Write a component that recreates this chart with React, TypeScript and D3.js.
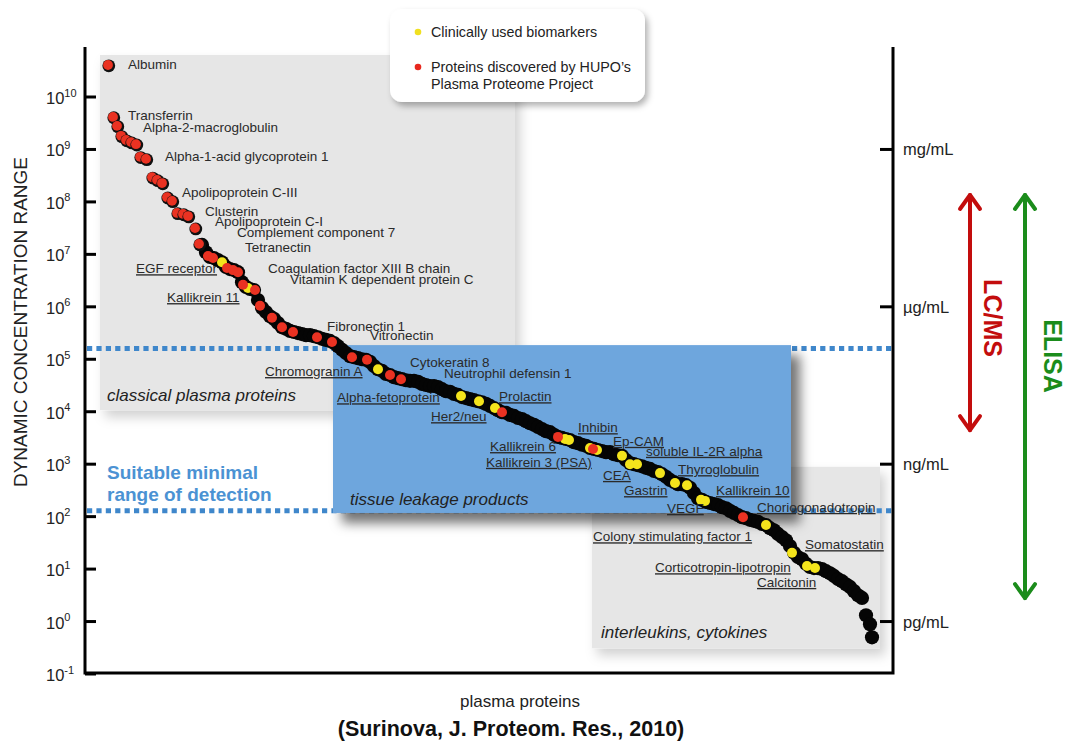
import React from "react";
import * as d3 from "d3";

// ---- data (rank along x, log10 concentration along y) ----
const bandStartRank = 29;
const bandLogConc = [
  7.18, 7.04, 6.95, 6.93, 6.89, 6.85, 6.76, 6.72, 6.70, 6.66,
  6.47, 6.38, 6.34, 6.32, 6.13, 5.98, 5.90, 5.82, 5.77, 5.69,
  5.61, 5.58, 5.54, 5.52, 5.50, 5.48, 5.46, 5.46, 5.44, 5.42,
  5.39, 5.37, 5.35, 5.31, 5.25, 5.18, 5.12, 5.06, 5.04, 5.02,
  5.00, 4.99, 4.95, 4.87, 4.81, 4.78, 4.72, 4.70, 4.66, 4.64,
  4.62, 4.60, 4.59, 4.59, 4.57, 4.53, 4.51, 4.49, 4.49, 4.47,
  4.43, 4.39, 4.38, 4.34, 4.32, 4.28, 4.26, 4.24, 4.22, 4.20,
  4.18, 4.15, 4.11, 4.07, 4.03, 3.99, 3.98, 3.94, 3.92, 3.88,
  3.86, 3.82, 3.78, 3.75, 3.71, 3.67, 3.63, 3.61, 3.56, 3.52,
  3.50, 3.48, 3.46, 3.42, 3.40, 3.37, 3.35, 3.31, 3.29, 3.27,
  3.25, 3.23, 3.23, 3.19, 3.17, 3.16, 3.08, 3.02, 3.00, 2.98,
  2.96, 2.93, 2.91, 2.87, 2.85, 2.81, 2.76, 2.70, 2.66, 2.62,
  2.62, 2.60, 2.55, 2.45, 2.35, 2.32, 2.28, 2.26, 2.24, 2.22,
  2.18, 2.16, 2.11, 2.07, 2.03, 1.99, 1.97, 1.94, 1.92, 1.90,
  1.86, 1.84, 1.78, 1.74, 1.67, 1.61, 1.55, 1.44, 1.31, 1.23,
  1.19, 1.10, 1.04, 1.02, 1.02, 1.00, 0.96, 0.92, 0.87, 0.81,
  0.77, 0.71, 0.66, 0.58, 0.50, 0.45, 0.12, -0.05,
];
const tailPoints: [number, number][] = [[196.5, -0.3]];

const upperHupo: [number, number][] = [
  [5.5, 10.61], [6.75, 9.62], [7.75, 9.45], [8.75, 9.26], [10, 9.18], [11.25, 9.14],
  [12.5, 9.1], [13.5, 8.86], [15, 8.82], [16.5, 8.47], [17.75, 8.42], [19, 8.36],
  [20.25, 8.09], [21.5, 8.02], [22.75, 7.79], [24.25, 7.77], [25.5, 7.73],
  [27.25, 7.5], [28.25, 7.2],
];

const hupoInBand: [number, number][] = [
  [30.5, 6.97], [31.75, 6.93], [35.25, 6.74], [36.75, 6.7], [38, 6.66], [39.25, 6.42],
  [42.25, 6.32], [43.5, 6.02], [46.5, 5.79], [49, 5.61], [51.75, 5.52], [57.75, 5.42],
  [61.5, 5.33], [66.5, 5.04], [70.25, 4.99], [76, 4.7], [78.75, 4.62], [104, 3.99],
  [118, 3.52], [126.75, 3.29], [164.25, 1.99],
];

const clinicalMarkers: [number, number][] = [
  [34, 6.85], [40.5, 6.36], [73, 4.81], [93.75, 4.3], [98.25, 4.2], [102.25, 4.07],
  [119.75, 3.48], [120.75, 3.46], [126, 3.31], [127.75, 3.27], [134, 3.16], [136, 3.0],
  [137.75, 3.0], [143.5, 2.83], [147.25, 2.64], [150.25, 2.6], [153.75, 2.32],
  [154.75, 2.3], [170, 1.84], [176.5, 1.31], [180.25, 1.06], [182.25, 1.02],
];

// [name, rank, log10 conc, underlined]
const proteinLabels: [string, number, number, boolean][] = [
  ["Albumin", 10.5, 10.53, false],
  ["Transferrin", 10.5, 9.56, false],
  ["Alpha-2-macroglobulin", 14.25, 9.33, false],
  ["Alpha-1-acid glycoprotein 1", 19.75, 8.78, false],
  ["Apolipoprotein C-III", 24, 8.09, false],
  ["Clusterin", 29.75, 7.73, false],
  ["Apolipoprotein C-I", 32.25, 7.54, false],
  ["Complement component 7", 37.75, 7.33, false],
  ["Tetranectin", 39.75, 7.04, false],
  ["EGF receptor", 12.5, 6.64, true],
  ["Coagulation factor XIII B chain", 45.5, 6.64, false],
  ["Vitamin K dependent protein C", 51, 6.43, false],
  ["Kallikrein 11", 20.25, 6.09, true],
  ["Fibronectin 1", 60.25, 5.54, false],
  ["Vitronectin", 71, 5.37, false],
  ["Chromogranin A", 44.75, 4.68, true],
  ["Cytokeratin 8", 81, 4.85, false],
  ["Neutrophil defensin 1", 89.5, 4.64, false],
  ["Alpha-fetoprotein", 62.75, 4.18, true],
  ["Prolactin", 103.25, 4.2, true],
  ["Her2/neu", 86.25, 3.82, true],
  ["Inhibin", 123, 3.61, true],
  ["Kallikrein 6", 101, 3.25, true],
  ["Kallikrein 3 (PSA)", 100, 2.95, true],
  ["Ep-CAM", 131.75, 3.35, true],
  ["soluble IL-2R alpha", 140, 3.16, true],
  ["CEA", 129.25, 2.7, true],
  ["Thyroglobulin", 148, 2.81, true],
  ["Gastrin", 134.5, 2.41, true],
  ["Kallikrein 10", 157.5, 2.41, true],
  ["VEGF", 145.25, 2.07, true],
  ["Choriogonadotropin", 167.75, 2.09, true],
  ["Colony stimulating factor 1", 126.75, 1.53, true],
  ["Somatostatin", 179.75, 1.38, true],
  ["Corticotropin-lipotropin", 142.25, 0.94, true],
  ["Calcitonin", 167.75, 0.66, true],
];

// regions: [name, rank0, rank1, logLow, logHigh, labelRank, labelLog]
const regions: [string, number, number, number, number, number, number][] = [
  ["classical plasma proteins", 3.5, 107.25, 4.03, 10.8, 5.25, 4.2],
  ["interleukins, cytokines", 126.5, 198.5, -0.51, 2.95, 128.75, -0.31],
  ["tissue leakage products", 61.75, 176.25, 2.07, 5.27, 66, 2.22],
];

const detectionLimits = [1.6e5, 130];
const tickExponents = [10, 9, 8, 7, 6, 5, 4, 3, 2, 1, 0, -1];
const unitLabels = ["mg/mL", "µg/mL", "ng/mL", "pg/mL"];
const unitExponents = [9, 6, 3, 0];
// method ranges (log10): [name, top, bottom]
const methods: [string, number, number][] = [
  ["LC/MS", 8.17, 3.61],
  ["ELISA", 8.17, 0.41],
];

const FONT = "'Liberation Sans', Arial, Helvetica, sans-serif";

export default function App() {
  const W = 1071, H = 748;
  const x = d3.scaleLinear().domain([0, 202]).range([86, 894]);
  const y = d3.scaleLog().domain([0.1, 1e10]).range([674, 97]);
  const Y = (e: number) => y(Math.pow(10, e));

  const axL = 85, axR = 893, axT = 47, axB = 673;
  const bandPts = bandLogConc.map((v, i) => [bandStartRank + i, v] as [number, number]).concat(tailPoints);

  const methodX = [970, 1025];
  const methodColor = ["#c30d0d", "#1b8c1b"];
  const methodLabelX = [993, 1053];

  const arrow = (cx: number, y0: number, y1: number, color: string, key: string) => (
    <g key={key} stroke={color} strokeWidth={4} fill="none" strokeLinecap="round" strokeLinejoin="round">
      <line x1={cx} x2={cx} y1={y0 + 2} y2={y1 - 2} />
      <polyline points={`${cx - 10},${y0 + 16} ${cx},${y0 + 2} ${cx + 10},${y0 + 16}`} />
      <polyline points={`${cx - 10},${y1 - 16} ${cx},${y1 - 2} ${cx + 10},${y1 - 16}`} />
    </g>
  );

  return (
    <svg width={W} height={H} style={{ position: "absolute", left: 0, top: 0, background: "#fff" }} fontFamily={FONT}>
      <defs>
        <filter id="greyShadow" x="-10%" y="-10%" width="130%" height="130%">
          <feDropShadow dx="5" dy="7" stdDeviation="6" floodColor="#000" floodOpacity="0.18" />
        </filter>
        <filter id="blueShadow" x="-10%" y="-10%" width="130%" height="140%">
          <feDropShadow dx="9" dy="10" stdDeviation="6" floodColor="#000" floodOpacity="0.55" />
        </filter>
        <filter id="legendShadow" x="-10%" y="-10%" width="130%" height="140%">
          <feDropShadow dx="3" dy="4" stdDeviation="3" floodColor="#000" floodOpacity="0.3" />
        </filter>
      </defs>

      {/* grey regions */}
      {regions.slice(0, 2).map(([name, r0, r1, lo, hi]) => (
        <rect key={name} x={x(r0)} y={Y(hi)} width={x(r1) - x(r0)} height={Y(lo) - Y(hi)}
          fill="#e6e6e6" filter="url(#greyShadow)" />
      ))}

      {/* detection-limit dotted lines */}
      {detectionLimits.map((v, i) => (
        <line key={i} x1={axL + 2} x2={axR} y1={y(v)} y2={y(v)} stroke="#3f87cb" strokeWidth={5} strokeDasharray="5.2 4.2" />
      ))}

      {/* blue region */}
      {regions.slice(2).map(([name, r0, r1, lo, hi]) => (
        <rect key={name} x={x(r0)} y={Y(hi)} width={x(r1) - x(r0)} height={Y(lo) - Y(hi)}
          fill="#6ea6dd" filter="url(#blueShadow)" />
      ))}

      {/* axes frame */}
      <path d={`M${axL},${axT} V${axB} H${axR} V${axT}`} fill="none" stroke="#000" strokeWidth={3} />
      {tickExponents.map((e) => (
        <g key={e}>
          <line x1={axL} x2={axL + 11} y1={Y(e)} y2={Y(e)} stroke="#000" strokeWidth={3} />
          <text x={46} y={Y(e) + 7} fontSize={16.5} fill="#222">
            10<tspan dy={-7.5} fontSize={11}>{e}</tspan>
          </text>
        </g>
      ))}
      {unitLabels.map((u, i) => (
        <g key={u}>
          <line x1={axR - 13} x2={axR} y1={Y(unitExponents[i])} y2={Y(unitExponents[i])} stroke="#000" strokeWidth={3} />
          <text x={903} y={Y(unitExponents[i]) + 6} fontSize={16.5} fill="#222">{u}</text>
        </g>
      ))}

      {/* black band of proteins */}
      {bandPts.map(([r, v], i) => (
        <circle key={"b" + i} cx={x(r)} cy={Y(v)} r={7.1} fill="#050505" />
      ))}
      {/* upper HUPO proteins with black ring */}
      {upperHupo.map(([r, v], i) => (
        <g key={"u" + i}>
          <circle cx={x(r) + 0.8} cy={Y(v) + 0.8} r={6.4} fill="#111" />
          <circle cx={x(r)} cy={Y(v)} r={4.9} fill="#ea3222" />
        </g>
      ))}
      {clinicalMarkers.map(([r, v], i) => (
        <circle key={"c" + i} cx={x(r)} cy={Y(v)} r={5} fill="#f4e41c" />
      ))}
      {hupoInBand.map(([r, v], i) => (
        <circle key={"h" + i} cx={x(r)} cy={Y(v)} r={5} fill="#ea3222" />
      ))}

      {/* protein labels */}
      {proteinLabels.map(([name, r, v, u]) => (
        <text key={name} x={x(r)} y={Y(v)} fontSize={13.5} fill="#2a2a2a"
          style={u ? { textDecoration: "underline" } : undefined}>{name}</text>
      ))}

      {/* region labels */}
      {regions.map(([name, , , , , lr, lv]) => (
        <text key={"l" + name} x={x(lr)} y={Y(lv)} fontSize={17} fontStyle="italic" fill="#222">{name}</text>
      ))}

      <text x={107} y={479} fontSize={19} fontWeight="bold" fill="#4b92d3">Suitable minimal</text>
      <text x={107} y={501} fontSize={19} fontWeight="bold" fill="#4b92d3">range of detection</text>

      {/* legend */}
      <rect x={390} y={9} width={255} height={93} rx={12} fill="#fff" filter="url(#legendShadow)" />
      <circle cx={418} cy={32} r={3.3} fill="#f0e020" />
      <text x={431} y={37} fontSize={14.3} fill="#222">Clinically used biomarkers</text>
      <circle cx={418} cy={67} r={3.3} fill="#e8281e" />
      <text x={431} y={72} fontSize={14.3} fill="#222">Proteins discovered by HUPO’s</text>
      <text x={431} y={89} fontSize={14.3} fill="#222">Plasma Proteome Project</text>

      {/* method ranges */}
      {methods.map(([name, top, bot], i) => arrow(methodX[i], Y(top), Y(bot), methodColor[i], name))}
      {methods.map(([name], i) => (
        <text key={"t" + name} transform={`translate(${methodLabelX[i]},${name === "LC/MS" ? 318 : 356}) rotate(90)`}
          textAnchor="middle" dominantBaseline="central" fontSize={25} fontWeight="bold" fill={methodColor[i]}>{name}</text>
      ))}

      {/* axis titles */}
      <text transform="translate(20,322) rotate(-90)" textAnchor="middle" dominantBaseline="central" fontSize={19} fill="#222">
        DYNAMIC CONCENTRATION RANGE
      </text>
      <text x={520} y={707} textAnchor="middle" fontSize={17} fill="#222">plasma proteins</text>
      <text x={511} y={736} textAnchor="middle" fontSize={21.5} fontWeight="bold" fill="#111">(Surinova, J. Proteom. Res., 2010)</text>
    </svg>
  );
}
